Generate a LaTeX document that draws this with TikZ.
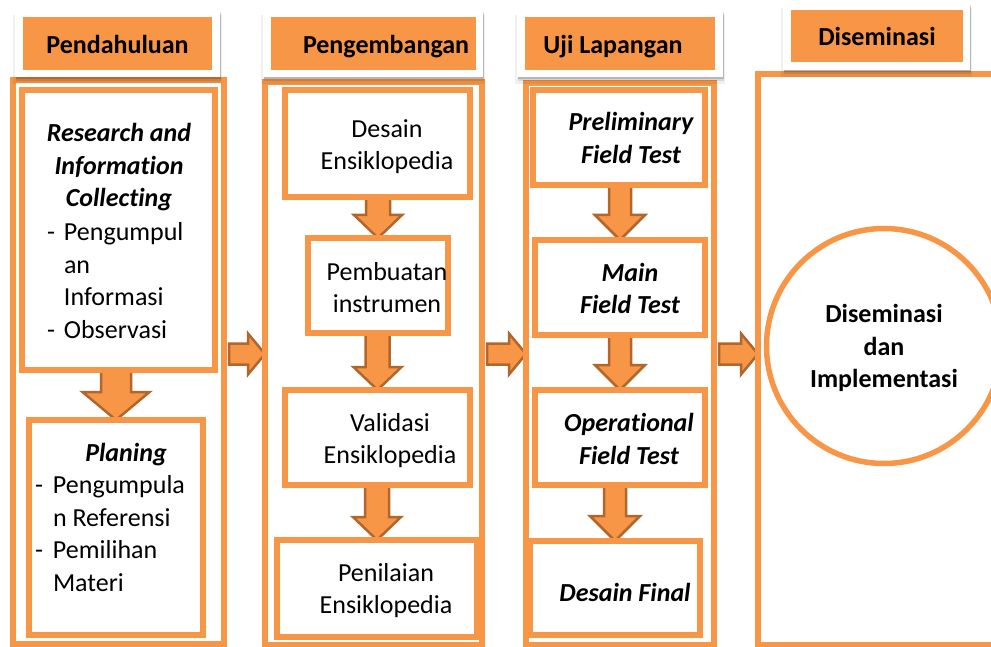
\documentclass[tikz,border=0pt]{standalone}
\usepackage{fontspec}
\setmainfont{Carlito}[Ligatures=NoCommon]
\usetikzlibrary{calc,shadows}
\definecolor{org}{HTML}{F79646}
\definecolor{orgdark}{RGB}{178,102,44}
\pgfdeclarelayer{back}
\pgfsetlayers{back,main}
\newcommand{\mylines}[1]{\begin{tabular}{@{}c@{}}#1\end{tabular}}
\newcommand{\mylist}[1]{\begin{tabular}{@{}l@{}}#1\end{tabular}}
% vertical block arrow: from box, to box, shaft half width, head half width, head length
\newcommand{\vblk}[5]{%
  \fill[blkarrow] ($(#2.north |- #1.south)+(-#3,0)$) -- ($(#2.north)+(-#3,-#5)$) -- ($(#2.north)+(-#4,-#5)$) -- (#2.north) -- ($(#2.north)+(#4,-#5)$) -- ($(#2.north)+(#3,-#5)$) -- ($(#2.north |- #1.south)+(#3,0)$) -- cycle;}
% horizontal block arrow: from column, to column, level coordinate
\newcommand{\hblk}[3]{%
  \fill[blkarrow] ($(#1.east |- #3)+(5,-10.5)$) -- ($(#2.west |- #3)+(-17,-10.5)$) -- ($(#2.west |- #3)+(-17,-20.5)$) -- (#2.west |- #3) -- ($(#2.west |- #3)+(-17,20.5)$) -- ($(#2.west |- #3)+(-17,10.5)$) -- ($(#1.east |- #3)+(5,10.5)$) -- cycle;}
\begin{document}
\begin{tikzpicture}[x=1pt,y=-1pt,
  every node/.style={inner sep=0pt,outer sep=0pt},
  colbox/.style={draw=org,line width=5.5pt,rectangle},
  stepbox/.style={draw=org,line width=5.5pt,rectangle},
  hdrwhite/.style={fill=white,
     general shadow={fill=black,opacity=0.06,shadow yshift=-6pt,shadow scale=1.02},
     general shadow={fill=black,opacity=0.10,shadow yshift=-4pt,shadow xshift=0.5pt},
     general shadow={fill=black,opacity=0.15,shadow yshift=-2pt,shadow xshift=1pt}},
  hdrfill/.style={fill=org},
  reg/.style={font=\fontsize{26}{32.5}\selectfont},
  bf/.style={font=\fontsize{26}{32.5}\selectfont\bfseries},
  bfit/.style={font=\fontsize{26}{32.5}\selectfont\bfseries\itshape},
  blkarrow/.style={fill=org,draw=orgdark,line width=2.5pt,line join=miter}
]
\useasboundingbox (0,0) rectangle (991,647);
\begin{pgfonlayer}{back}
\fill[white] (0,0) rectangle (991,647);
\end{pgfonlayer}
\clip (0,0) rectangle (991,647);

% columns
\node[colbox,minimum width=211pt,minimum height=564pt] (c1) at (118.5,362) {};
\node[colbox,minimum width=217pt,minimum height=563pt] (c2) at (373.5,363.5) {};
\node[colbox,minimum width=188pt,minimum height=562pt] (c3) at (620,364) {};
\node[colbox,minimum width=252pt,minimum height=571pt] (c4) at (884,359.5) {};
\coordinate (hy) at (0,354);

% column 1 boxes
\node[stepbox,minimum width=193pt,minimum height=280pt] (r1) at (118.5,230) {};
\node[stepbox,minimum width=174pt,minimum height=215pt] (p1) at (116,527.5) {};
% column 2 boxes
\node[stepbox,minimum width=185pt,minimum height=107pt] (d1) at (377.5,143.5) {};
\node[stepbox,minimum width=140pt,minimum height=95pt] (d2) at (378,285.5) {};
\node[stepbox,minimum width=185pt,minimum height=95pt] (d3) at (377.5,437.5) {};
\node[stepbox,minimum width=200pt,minimum height=97pt] (d4) at (377,588.5) {};
% column 3 boxes
\node[stepbox,minimum width=172pt,minimum height=95pt] (u1) at (619,137.5) {};
\node[stepbox,minimum width=170pt,minimum height=95pt] (u2) at (620,287.5) {};
\node[stepbox,minimum width=170pt,minimum height=95pt] (u3) at (620,437.5) {};
\node[stepbox,minimum width=170pt,minimum height=94pt] (u4) at (615,588) {};
% column 4 circle
\node[circle,draw=org,line width=5.5pt,minimum size=235pt] (dis) at (884,346) {};
\node[bf] (dist) at (884,349) {\mylines{Diseminasi\\dan\\Implementasi}};

% arrows
\begin{pgfonlayer}{back}
\vblk{r1}{p1}{15}{33.5}{28}
\vblk{d1}{d2}{12}{24}{23}
\vblk{d2}{d3}{12}{24}{23}
\vblk{d3}{d4}{12}{24}{23}
\vblk{u1}{u2}{11}{25}{25}
\vblk{u2}{u3}{11}{25}{25}
\vblk{u3}{u4}{11}{25}{25}
\hblk{c1}{c2}{hy}
\hblk{c2}{c3}{hy}
\hblk{c3}{c4}{hy}
\end{pgfonlayer}

% headers
\node[hdrwhite,minimum width=205pt,minimum height=67pt] (hw1) at (117.5,43.5) {};
\node[hdrfill,minimum width=189pt,minimum height=53pt] (ho1) at (117.5,43.5) {};
\node[bf,anchor=base] (h1t) at (117.5,54) {Pendahuluan};
\node[hdrwhite,minimum width=220pt,minimum height=67pt] (hw2) at (373,43.5) {};
\node[hdrfill,minimum width=205pt,minimum height=53pt] (ho2) at (373.5,43.5) {};
\node[bf,anchor=base west] (h2t) at (303,54) {Pengembangan};
\node[hdrwhite,minimum width=206pt,minimum height=67pt] (hw3) at (620,43.5) {};
\node[hdrfill,minimum width=190pt,minimum height=53pt] (ho3) at (620,43.5) {};
\node[bf,anchor=base] (h3t) at (613,54) {Uji Lapangan};
\node[hdrwhite,minimum width=187pt,minimum height=67pt] (hw4) at (876.5,36.5) {};
\node[hdrfill,minimum width=172pt,minimum height=52pt] (ho4) at (877,36) {};
\node[bf,anchor=base] (h4t) at (877,46) {Diseminasi};

% texts column 1
\node[bfit] (r1h) at (119,168) {\mylines{Research and\\Information\\Collecting}};
\node[reg,anchor=west] (r1l) at (47,283) {\mylist{\makebox[17pt][l]{-}Pengumpul\\\hspace*{17pt}an\\\hspace*{17pt}Informasi\\\makebox[17pt][l]{-}Observasi}};
\node[bfit] (p1h) at (126,455) {Planing};
\node[reg,anchor=west] (p1l) at (35,536) {\mylist{\makebox[18pt][l]{-}Pengumpula\\\hspace*{18pt}n Referensi\\\makebox[18pt][l]{-}Pemilihan\\\hspace*{18pt}Materi}};
% texts column 2
\node[reg] (d1t) at (387,147) {\mylines{Desain\\Ensiklopedia}};
\node[reg] (d2t) at (387,290) {\mylines{Pembuatan\\instrumen}};
\node[reg] (d3t) at (390,441) {\mylines{Validasi\\Ensiklopedia}};
\node[reg] (d4t) at (386,591) {\mylines{Penilaian\\Ensiklopedia}};
% texts column 3
\node[bfit] (u1t) at (631,140.5) {\mylines{Preliminary\\Field Test}};
\node[bfit] (u2t) at (630,291) {\mylines{Main\\Field Test}};
\node[bfit] (u3t) at (629,441.5) {\mylines{Operational\\Field Test}};
\node[bfit] (u4t) at (625,592) {Desain Final};
\end{tikzpicture}
\end{document}
